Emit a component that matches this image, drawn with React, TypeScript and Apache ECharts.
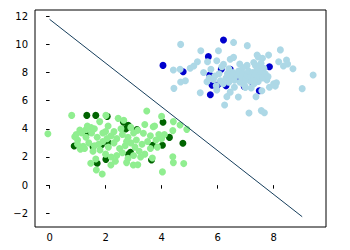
import React, { useEffect, useRef } from "react";
import * as echarts from "echarts";

const lightBlue: number[][] = [[4.68,9.99],[5.40,9.54],[6.03,9.54],[6.57,10.13],[7.06,9.90],[7.41,9.23],[7.82,9.23],[8.24,9.60],[8.18,8.76],[8.46,8.88],[8.50,8.60],[8.35,8.45],[8.69,8.26],[9.41,7.82],[9.02,6.85],[8.10,7.27],[8.06,7.03],[7.76,7.46],[7.58,6.70],[7.37,6.28],[7.12,5.12],[7.56,5.29],[7.67,5.14],[6.25,5.69],[6.74,6.26],[6.33,6.28],[5.38,6.56],[4.44,6.87],[4.68,7.32],[4.85,7.41],[4.42,8.17],[4.66,8.22],[5.02,8.29],[5.15,8.45],[5.28,8.76],[5.64,8.76],[5.76,8.22],[5.97,8.83],[6.21,8.57],[6.45,8.93],[6.57,9.07],[6.79,8.60],[7.05,8.50],[7.29,8.71],[7.53,8.40],[7.45,9.10],[7.60,9.00],[7.35,8.50],[5.97,6.75],[6.99,6.94],[5.62,7.34],[5.70,7.60],[5.85,7.50],[5.90,7.75],[6.05,7.90],[6.10,7.40],[6.20,7.20],[6.30,7.60],[6.35,7.90],[6.40,7.30],[6.50,7.70],[6.55,8.00],[6.60,7.45],[6.70,7.80],[6.75,8.10],[6.80,7.30],[6.85,7.65],[6.90,7.95],[7.00,7.50],[7.05,7.80],[7.10,8.10],[7.15,7.40],[7.20,7.70],[7.25,8.00],[7.30,7.55],[7.35,7.85],[7.40,8.15],[7.45,7.35],[7.50,7.70],[7.55,8.05],[7.60,7.60],[7.65,8.30],[7.70,7.90],[7.20,6.90],[6.95,7.10],[6.60,6.95],[6.45,6.60],[5.95,7.05],[7.85,6.95],[8.00,7.20],[5.50,8.00],[7.80,7.70],[6.15,8.40],[6.90,8.35],[7.55,8.65],[7.30,7.20],[6.40,8.25]];

const darkBlue: number[][] = [[4.05,8.50],[4.77,8.05],[5.67,9.12],[6.21,10.30],[5.72,7.82],[6.00,7.11],[5.74,6.42],[6.13,8.22],[6.79,7.56],[7.23,7.32],[7.85,8.40],[6.45,8.22],[7.49,6.70],[6.95,7.00],[5.80,7.10],[6.30,7.05]];

const lightGreen: number[][] = [[-0.06,3.65],[0.79,4.95],[2.01,4.95],[3.47,5.26],[4.00,4.88],[4.42,4.51],[4.66,4.27],[4.90,3.96],[4.40,3.87],[2.45,4.74],[2.09,4.20],[1.79,4.51],[1.49,4.08],[1.31,3.96],[1.08,3.91],[0.90,3.44],[1.00,3.20],[1.20,2.75],[1.10,2.55],[1.47,1.55],[1.67,1.08],[1.88,0.79],[2.19,1.43],[2.99,1.43],[3.15,1.45],[4.03,0.94],[4.40,2.02],[4.42,1.60],[4.79,1.53],[3.67,1.93],[3.70,4.15],[3.35,3.68],[3.60,3.50],[3.80,3.20],[3.90,3.60],[4.00,3.30],[3.50,3.10],[3.30,2.90],[3.20,2.40],[3.40,2.20],[3.60,2.60],[2.00,3.80],[2.20,3.50],[2.40,3.30],[2.60,3.60],[2.80,3.40],[3.00,3.70],[3.10,3.20],[2.90,3.00],[2.70,2.80],[2.50,2.60],[2.30,3.00],[2.10,2.70],[1.90,3.10],[1.70,3.40],[1.50,3.70],[1.30,3.40],[1.40,3.00],[1.60,2.80],[1.80,2.50],[2.00,2.20],[2.20,2.00],[2.40,2.10],[2.60,2.30],[2.80,1.90],[3.00,2.10],[1.55,2.40],[1.25,2.60],[1.75,2.90],[2.05,3.30],[2.30,3.80],[2.55,4.00],[2.75,3.10],[3.05,2.70],[1.15,3.70],[1.35,4.20],[1.60,4.00],[1.90,3.70],[2.65,4.60],[2.90,4.10],[3.15,3.90],[3.40,4.30],[3.75,4.20],[3.25,2.00],[2.35,1.70],[1.65,1.85],[2.75,1.60],[4.10,3.60],[3.85,2.70],[1.00,2.90],[0.95,3.60]];

const darkGreen: number[][] = [[0.88,2.78],[1.33,4.95],[1.65,4.95],[2.06,4.88],[1.70,1.55],[2.01,1.83],[2.64,4.46],[2.81,4.25],[2.72,3.99],[3.12,3.94],[2.89,2.33],[2.82,2.19],[3.68,2.83],[4.03,2.83],[4.05,4.46],[4.28,3.39],[4.76,2.97],[3.64,1.79],[1.55,2.73],[1.85,2.85],[1.30,3.60],[2.10,3.00]];

const boundary: number[][] = [[0, 11.77], [9.02, -2.24]];

const xTicks = [0, 2, 4, 6, 8];
const yTicks = [-2, 0, 2, 4, 6, 8, 10, 12];

export default function App() {
  const ref = useRef<HTMLDivElement>(null);
  useEffect(() => {
    const chart = echarts.init(ref.current!, null, { renderer: "svg" });
    const font = { fontFamily: "DejaVu Sans", fontSize: 10, color: "#000" };
    const scatter = (data: number[][], color: string) => ({
      type: "scatter",
      data,
      symbolSize: 7,
      itemStyle: { color, opacity: 1 },
      silent: true,
    });
    chart.setOption({
      animation: false,
      grid: {
        left: 35, right: 24, top: 10, bottom: 23,
        show: true, borderColor: "#000", borderWidth: 1, backgroundColor: "#fff",
      },
      xAxis: {
        type: "value", min: -0.52, max: 9.87,
        splitLine: { show: false },
        axisLine: { show: false },
        axisTick: { show: true, length: 3.5, customValues: xTicks, lineStyle: { color: "#000" } },
        axisLabel: { ...font, margin: 5, customValues: xTicks },
      },
      yAxis: {
        type: "value", min: -2.97, max: 12.43,
        splitLine: { show: false },
        axisLine: { show: false },
        axisTick: { show: true, length: 3.5, customValues: yTicks, lineStyle: { color: "#000" } },
        axisLabel: {
          ...font, margin: 7, customValues: yTicks,
          formatter: (v: number) => String(v).replace("-", "\u2212"),
        },
      },
      series: [
        scatter(darkGreen, "#006400"),
        scatter(lightGreen, "#90ee90"),
        scatter(darkBlue, "#0000cd"),
        scatter(lightBlue, "#add8e6"),
        {
          type: "line",
          data: boundary,
          symbol: "none",
          lineStyle: { color: "#163e5c", width: 1 },
          silent: true,
        },
      ],
    });
    return () => chart.dispose();
  }, []);
  return (
    <div
      ref={ref}
      style={{ position: "fixed", left: 0, top: 0, width: 350, height: 250, background: "#fff" }}
    />
  );
}
